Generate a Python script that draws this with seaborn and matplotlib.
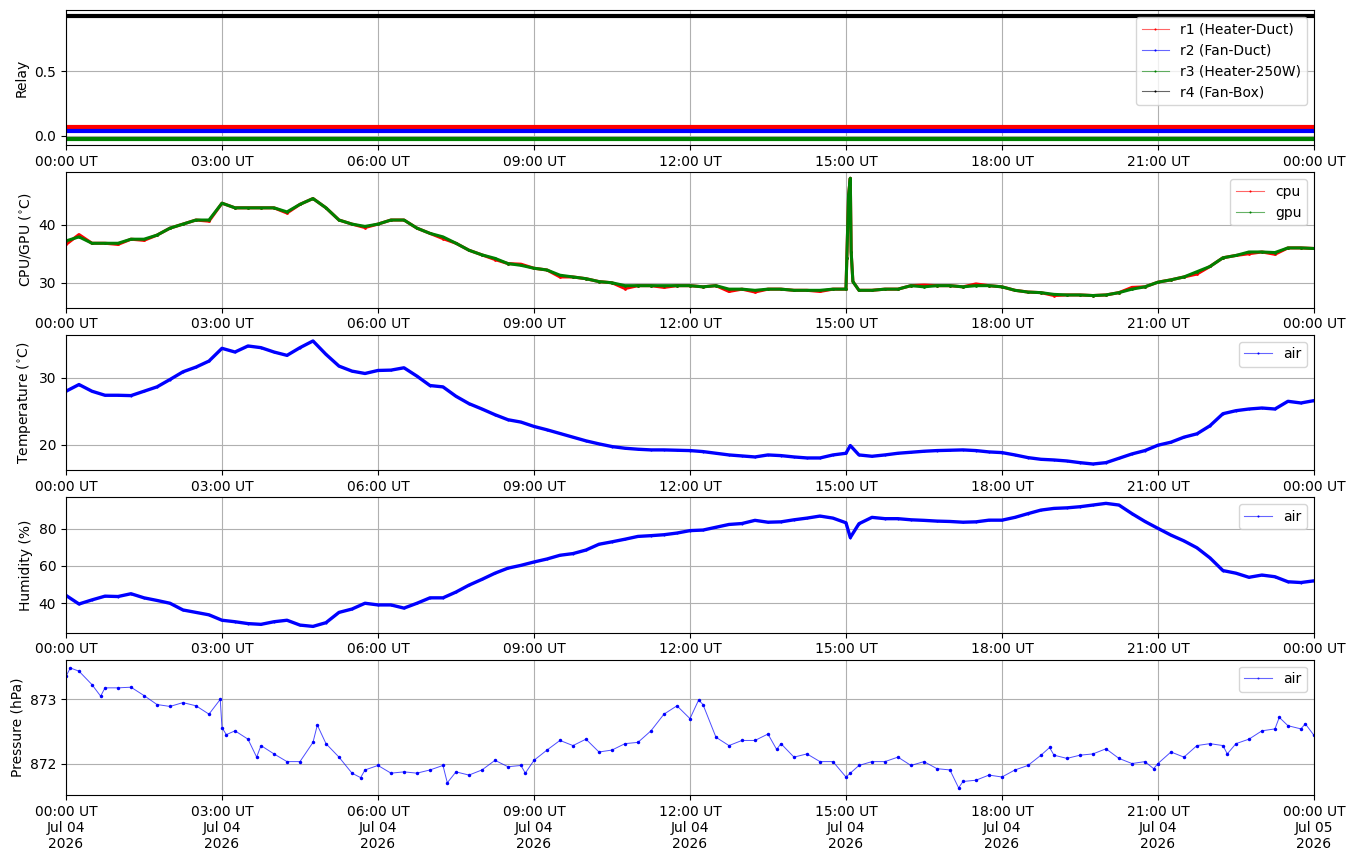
import numpy as np
import pandas as pd
import matplotlib
matplotlib.use("Agg")
import matplotlib.pyplot as plt
import matplotlib.dates as mdates
import matplotlib.colors as mcolors
import seaborn as sns

# 15-minute sampling grid for one day
day_start = "2026-07-04 00:00"
grid = pd.date_range(day_start, periods=97, freq="15min")

# relay states (constant all day) and their plotting offsets
relay_names = ["r1 (Heater-Duct)", "r2 (Fan-Duct)", "r3 (Heater-250W)", "r4 (Fan-Box)"]
relay_states = [0, 0, 0, 1]
relay_offsets = [0.065, 0.034, -0.028, -0.07]
relay_colors = ["red", "blue", "green", "black"]

gpu_temp = [
    37.2, 37.9, 36.8, 36.8, 36.8, 37.5, 37.5, 38.2, 39.4, 40.1, 40.8, 40.8,
    43.7, 42.9, 42.9, 42.9, 42.9, 42.2, 43.5, 44.5, 42.9, 40.8, 40.1, 39.7,
    40.1, 40.8, 40.8, 39.4, 38.5, 37.9, 36.8, 35.6, 34.8, 34.2, 33.3, 33.0,
    32.5, 32.2, 31.3, 31.0, 30.7, 30.2, 30.0, 29.5, 29.5, 29.5, 29.5, 29.5,
    29.5, 29.3, 29.5, 28.9, 28.9, 28.7, 28.9, 28.9, 28.7, 28.7, 28.7, 28.9,
    28.9, 28.7, 28.7, 28.9, 28.9, 29.5, 29.3, 29.5, 29.5, 29.3, 29.5, 29.5,
    29.3, 28.7, 28.4, 28.3, 28.0, 27.9, 27.9, 27.8, 27.9, 28.3, 28.9, 29.3,
    30.1, 30.5, 31.0, 31.9, 32.8, 34.3, 34.7, 35.3, 35.3, 35.2, 36.0, 36.0,
    35.9,
]
cpu_temp = [
    36.6, 38.3, 36.8, 36.8, 36.6, 37.5, 37.3, 38.2, 39.4, 40.1, 40.8, 40.6,
    43.7, 42.9, 42.9, 42.9, 42.9, 42.0, 43.5, 44.5, 42.9, 40.8, 40.1, 39.5,
    40.1, 40.8, 40.8, 39.4, 38.5, 37.6, 36.8, 35.6, 34.8, 34.0, 33.3, 33.2,
    32.5, 32.2, 31.0, 31.0, 30.7, 30.2, 30.0, 29.0, 29.5, 29.5, 29.2, 29.5,
    29.5, 29.3, 29.5, 28.5, 28.9, 28.4, 28.9, 28.9, 28.7, 28.7, 28.5, 28.9,
    28.9, 28.7, 28.7, 28.9, 28.9, 29.5, 29.6, 29.5, 29.5, 29.3, 29.8, 29.5,
    29.3, 28.7, 28.4, 28.3, 27.8, 27.9, 27.9, 27.8, 27.9, 28.3, 29.2, 29.3,
    30.1, 30.5, 31.0, 31.5, 32.8, 34.3, 34.7, 35.0, 35.3, 34.9, 36.0, 36.0,
    35.9,
]
# short load spike just after 15:00
spike_times = ["2026-07-04 15:01", "2026-07-04 15:03", "2026-07-04 15:05",
               "2026-07-04 15:06", "2026-07-04 15:08"]
spike_temp = [34.2, 45.1, 48.0, 35.3, 30.2]

air_temp = [
    28.0, 29.0, 28.0, 27.4, 27.4, 27.35, 28.0, 28.65, 29.75, 30.9, 31.6, 32.5,
    34.4, 33.85, 34.75, 34.5, 33.85, 33.35, 34.5, 35.5, 33.5, 31.75, 31.0, 30.65,
    31.1, 31.15, 31.5, 30.25, 28.85, 28.65, 27.25, 26.15, 25.35, 24.5, 23.75, 23.4,
    22.75, 22.25, 21.7, 21.15, 20.6, 20.15, 19.75, 19.5, 19.35, 19.25, 19.25, 19.2,
    19.15, 19.0, 18.75, 18.5, 18.35, 18.2, 18.5, 18.4, 18.2, 18.05, 18.05, 18.5,
    18.75, 18.5, 18.3, 18.5, 18.75, 18.9, 19.05, 19.15, 19.2, 19.25, 19.15, 18.95,
    18.85, 18.5, 18.1, 17.85, 17.75, 17.6, 17.35, 17.15, 17.35, 18.0, 18.65, 19.15,
    19.95, 20.4, 21.15, 21.65, 22.85, 24.65, 25.1, 25.35, 25.5, 25.35, 26.5, 26.25,
    26.6,
]
air_humidity = [
    44.2, 39.6, 41.8, 43.8, 43.6, 45.1, 42.9, 41.5, 40.0, 36.4, 35.1, 33.8,
    30.9, 30.1, 29.1, 28.7, 30.1, 30.9, 28.3, 27.6, 29.6, 35.1, 36.9, 40.0,
    39.1, 39.1, 37.4, 40.0, 42.9, 42.9, 46.0, 49.7, 52.8, 56.1, 58.8, 60.3,
    62.1, 63.7, 65.7, 66.6, 68.5, 71.6, 72.9, 74.3, 75.8, 76.2, 76.7, 77.6,
    78.9, 79.2, 80.7, 82.2, 82.7, 84.4, 83.4, 83.6, 84.7, 85.6, 86.7, 85.6,
    83.1, 82.6, 86.0, 85.3, 85.3, 84.7, 84.4, 84.0, 83.8, 83.4, 83.6, 84.5,
    84.5, 86.0, 88.0, 89.9, 90.8, 91.1, 91.7, 92.6, 93.5, 92.6, 88.0, 83.8,
    80.1, 76.5, 73.4, 69.7, 64.3, 57.5, 56.1, 53.9, 55.1, 54.2, 51.5, 51.1,
    52.0,
]
# extra short dips/dips visible in the humidity and temperature traces
bump_times = ["2026-07-04 15:05"]
bump_temp = [19.9]
bump_humidity = [75.2]

air_pressure = [
    873.36, 873.44, 873.23, 873.18, 873.18, 873.19, 873.06, 872.92, 872.89, 872.95, 872.90, 872.77,
    872.56, 872.51, 872.38, 872.28, 872.15, 872.03, 872.03, 872.33, 872.31, 872.10, 871.85, 871.90,
    871.97, 871.85, 871.87, 871.85, 871.90, 871.97, 871.87, 871.82, 871.90, 872.05, 871.95, 871.97,
    872.05, 872.21, 872.36, 872.28, 872.38, 872.18, 872.21, 872.31, 872.33, 872.51, 872.77, 872.90,
    872.70, 872.92, 872.41, 872.28, 872.36, 872.36, 872.46, 872.31, 872.10, 872.15, 872.03, 872.03,
    871.79, 871.97, 872.03, 872.03, 872.10, 871.97, 872.03, 871.92, 871.90, 871.72, 871.74, 871.82,
    871.79, 871.90, 871.97, 872.13, 872.13, 872.08, 872.13, 872.15, 872.23, 872.08, 872.00, 872.03,
    872.00, 872.18, 872.10, 872.28, 872.31, 872.28, 872.31, 872.38, 872.51, 872.54, 872.59, 872.54,
    872.44,
]
# notable single-sample excursions in the pressure trace
p_extra_times = ["2026-07-04 00:05", "2026-07-04 00:40", "2026-07-04 02:58",
                 "2026-07-04 03:05", "2026-07-04 03:40", "2026-07-04 04:50",
                 "2026-07-04 05:40", "2026-07-04 07:20", "2026-07-04 08:50",
                 "2026-07-04 12:10", "2026-07-04 13:40", "2026-07-04 15:05",
                 "2026-07-04 17:10", "2026-07-04 18:55", "2026-07-04 20:55",
                 "2026-07-04 22:20", "2026-07-04 23:20", "2026-07-04 23:50"]
p_extra_values = [873.49, 873.05, 873.00,
                  872.45, 872.10, 872.60,
                  871.78, 871.70, 871.85,
                  872.99, 872.22, 871.85,
                  871.62, 872.25, 871.92,
                  872.15, 872.72, 872.62]

fig, axes = plt.subplots(5, 1, figsize=(13.55, 8.61), dpi=100)
plt.subplots_adjust(left=0.0487, right=0.9697, top=0.9884, bottom=0.0767, hspace=0.2)


def thin_legend(ax):
    leg = ax.legend(loc="upper right")
    for line in leg.get_lines():
        base = mcolors.to_rgba(line.get_color())
        line.set_color((base[0], base[1], base[2], 0.6))
        line.set_linewidth(0.8)
        line.set_markerfacecolor(base)
        line.set_markeredgecolor(base)
        line.set_markersize(3)


def merged(times, values, extra_t, extra_v):
    df = pd.DataFrame({"t": list(times) + list(pd.to_datetime(extra_t)),
                       "v": list(values) + list(extra_v)})
    return df.sort_values("t")


# --- Relay panel
ax = axes[0]
for name, state, off, col in zip(relay_names, relay_states, relay_offsets, relay_colors):
    sns.lineplot(x=grid, y=[state + off] * len(grid), ax=ax, color=col, lw=3,
                 marker=".", markersize=3, markeredgewidth=0, label=name)
ax.set_ylabel("Relay")
ax.set_yticks([0.0, 0.5])
thin_legend(ax)

# --- CPU / GPU panel
ax = axes[1]
cpu_df = merged(grid, cpu_temp, spike_times, spike_temp)
gpu_df = merged(grid, gpu_temp, spike_times, spike_temp)
sns.lineplot(data=cpu_df, x="t", y="v", ax=ax, color="red", lw=2.2, marker=".",
             markersize=4, markeredgewidth=0, label="cpu")
sns.lineplot(data=gpu_df, x="t", y="v", ax=ax, color="green", lw=2.2, marker=".",
             markersize=4, markeredgewidth=0, label="gpu")
ax.set_ylabel("CPU/GPU ($^{\\circ}$C)")
ax.set_ylim(25.7, 49.0)
thin_legend(ax)

# --- Air temperature
ax = axes[2]
sns.lineplot(data=merged(grid, air_temp, bump_times, bump_temp), x="t", y="v", ax=ax,
             color="blue", lw=2.4, marker=".", markersize=3, markeredgewidth=0, label="air")
ax.set_ylabel("Temperature ($^{\\circ}$C)")
thin_legend(ax)

# --- Humidity
ax = axes[3]
sns.lineplot(data=merged(grid, air_humidity, bump_times, bump_humidity), x="t", y="v", ax=ax,
             color="blue", lw=2.4, marker=".", markersize=3, markeredgewidth=0, label="air")
ax.set_ylabel("Humidity (%)")
thin_legend(ax)

# --- Pressure
ax = axes[4]
sns.lineplot(data=merged(grid, air_pressure, p_extra_times, p_extra_values), x="t", y="v",
             ax=ax, color=(0.0, 0.0, 1.0, 0.7), lw=0.7, marker=".", markersize=5,
             markeredgewidth=0, markerfacecolor="blue", label="air")
ax.set_ylabel("Pressure (hPa)")
ax.set_ylim(871.51, 873.62)
ax.set_yticks([872, 873])
thin_legend(ax)

x0 = pd.Timestamp("2026-07-04 00:00")
x1 = pd.Timestamp("2026-07-05 00:00")
for i, ax in enumerate(axes):
    ax.set_xlim(x0, x1)
    ax.set_xlabel("")
    ax.grid(True, color="#b0b0b0", lw=0.8)
    ax.xaxis.set_major_locator(mdates.HourLocator(byhour=range(0, 24, 3)))
    if i == len(axes) - 1:
        ax.xaxis.set_major_formatter(mdates.DateFormatter("%H:%M UT\n%b %d\n%Y"))
    else:
        ax.xaxis.set_major_formatter(mdates.DateFormatter("%H:%M UT"))
    for lbl in ax.get_xticklabels():
        lbl.set_rotation(0)
        lbl.set_ha("center")

plt.savefig("out.png", dpi=100)
